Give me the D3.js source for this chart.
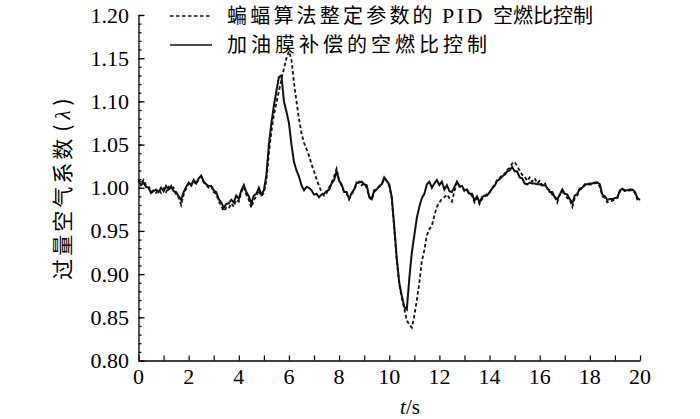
<!DOCTYPE html>
<html><head><meta charset="utf-8">
<script src="https://cdn.jsdelivr.net/npm/d3@7"></script>
<style>html,body{margin:0;padding:0;background:#fff;}svg{display:block;}</style>
</head><body>
<svg id="chart" width="700" height="419"></svg>
<script>
// time samples (s)
const time = [0.0,0.1,0.2,0.3,0.4,0.5,0.6,0.7,0.8,0.9,1.0,1.1,1.2,1.3,1.4,1.5,1.6,1.7,1.8,1.9,2.0,2.1,2.2,2.3,2.4,2.5,2.6,2.7,2.8,2.9,3.0,3.1,3.2,3.3,3.4,3.5,3.6,3.7,3.8,3.9,4.0,4.1,4.2,4.3,4.4,4.5,4.6,4.7,4.8,4.9,5.0,5.1,5.2,5.3,5.4,5.5,5.6,5.7,5.8,5.9,6.0,6.1,6.2,6.3,6.4,6.5,6.6,6.7,6.8,6.9,7.0,7.1,7.2,7.3,7.4,7.5,7.6,7.7,7.8,7.9,8.0,8.1,8.2,8.3,8.4,8.5,8.6,8.7,8.8,8.9,9.0,9.1,9.2,9.3,9.4,9.5,9.6,9.7,9.8,9.9,10.0,10.1,10.2,10.3,10.4,10.5,10.6,10.7,10.8,10.9,11.0,11.1,11.2,11.3,11.4,11.5,11.6,11.7,11.8,11.9,12.0,12.1,12.2,12.3,12.4,12.5,12.6,12.7,12.8,12.9,13.0,13.1,13.2,13.3,13.4,13.5,13.6,13.7,13.8,13.9,14.0,14.1,14.2,14.3,14.4,14.5,14.6,14.7,14.8,14.9,15.0,15.1,15.2,15.3,15.4,15.5,15.6,15.7,15.8,15.9,16.0,16.1,16.2,16.3,16.4,16.5,16.6,16.7,16.8,16.9,17.0,17.1,17.2,17.3,17.4,17.5,17.6,17.7,17.8,17.9,18.0,18.1,18.2,18.3,18.4,18.5,18.6,18.7,18.8,18.9,19.0,19.1,19.2,19.3,19.4,19.5,19.6,19.7,19.8,19.9,20.0];

// 蝙蝠算法整定参数的 PID 空燃比控制 (dashed)
const batPID = [1.010,1.005,1.009,1.003,1.002,0.995,0.997,0.994,0.998,0.994,0.999,0.995,1.001,0.997,1.000,0.992,0.989,0.980,0.992,0.999,1.005,1.002,1.008,1.004,1.010,1.013,1.006,1.003,1.000,1.002,0.995,0.993,0.984,0.979,0.973,0.977,0.976,0.982,0.978,0.986,0.984,0.995,1.001,0.992,0.986,0.977,0.986,0.990,0.997,0.990,0.994,1.008,1.040,1.065,1.085,1.098,1.112,1.125,1.138,1.150,1.158,1.148,1.122,1.100,1.080,1.063,1.052,1.045,1.037,1.027,1.019,1.010,1.002,0.995,0.991,0.994,1.000,1.006,1.013,1.022,1.009,1.002,0.995,0.993,0.987,0.992,0.998,1.004,1.007,1.003,1.005,1.000,0.989,0.986,0.995,0.998,1.001,1.004,1.010,1.008,1.002,0.988,0.953,0.915,0.888,0.872,0.860,0.846,0.842,0.838,0.852,0.870,0.890,0.915,0.928,0.945,0.952,0.956,0.968,0.978,0.983,0.987,0.989,0.992,0.988,0.984,0.996,1.006,1.001,1.001,0.996,0.997,0.992,0.991,0.983,0.988,0.981,0.987,0.989,0.993,0.994,1.000,1.003,1.009,1.011,1.015,1.016,1.021,1.023,1.028,1.030,1.025,1.020,1.015,1.013,1.008,1.012,1.007,1.011,1.005,1.008,1.003,1.006,0.999,0.997,0.992,0.990,0.983,0.992,0.995,0.993,0.988,0.986,0.978,0.988,0.991,0.998,0.999,1.003,1.003,1.004,1.004,1.005,1.006,1.001,0.990,0.988,0.983,0.984,0.985,0.987,0.988,0.996,0.998,0.996,0.996,0.997,0.997,0.994,0.986,0.984];

// 加油膜补偿的空燃比控制 (solid)
const oilFilm = [1.008,1.003,1.006,1.001,1.000,0.994,0.996,0.998,0.995,1.000,0.996,1.002,0.998,1.002,0.996,0.995,0.990,0.986,0.995,1.001,1.006,1.003,1.009,1.005,1.011,1.014,1.007,1.004,1.002,1.002,0.997,0.995,0.987,0.983,0.977,0.981,0.982,0.986,0.983,0.991,0.987,0.997,1.003,0.995,0.990,0.982,0.991,0.993,1.000,0.992,0.997,1.015,1.050,1.075,1.095,1.112,1.128,1.130,1.100,1.088,1.075,1.050,1.030,1.020,1.013,1.003,0.997,1.001,1.000,0.997,0.992,0.993,0.989,0.992,0.993,0.996,0.998,1.005,1.009,1.019,1.008,1.004,0.995,0.995,0.987,0.994,0.998,1.006,1.006,1.007,1.004,1.003,0.990,0.987,0.997,0.998,1.002,1.004,1.012,1.008,1.004,0.989,0.955,0.918,0.890,0.875,0.862,0.859,0.895,0.925,0.945,0.965,0.978,0.988,0.993,1.004,1.007,1.000,1.005,1.009,1.003,1.007,0.998,1.003,0.996,0.995,1.001,1.007,1.002,1.002,0.997,0.998,0.993,0.993,0.985,0.990,0.983,0.989,0.991,0.991,0.995,0.999,1.002,1.008,1.010,1.013,1.015,1.019,1.020,1.024,1.019,1.019,1.012,1.011,1.005,1.004,1.006,1.005,1.005,1.004,1.004,1.003,1.003,1.000,0.995,0.995,0.989,0.987,0.992,0.998,0.993,0.992,0.987,0.982,0.991,0.993,0.999,1.000,1.004,1.004,1.005,1.005,1.006,1.006,1.004,0.992,0.990,0.986,0.987,0.987,0.988,0.989,0.997,0.999,0.997,0.997,0.998,0.998,0.995,0.988,0.986];

const xTicks = [0,2,4,6,8,10,12,14,16,18,20];
const yTicks = [0.80,0.85,0.90,0.95,1.00,1.05,1.10,1.15,1.20];
const legendLabels = ["蝙蝠算法整定参数的", "PID", "空燃比控制", "加油膜补偿的空燃比控制"];
const yLabelCJK = "过量空气系数", yLabelSym = "λ";

const svg = d3.select("#chart");
const L = 138.5, R = 640, T = 15, B = 360.5;
const x = d3.scaleLinear().domain([0,20]).range([L,R]);
const y = d3.scaleLinear().domain([0.80,1.20]).range([B,T]);
const serif = "'Liberation Serif','Times New Roman',serif";
const cjk = "'Noto Sans CJK SC','Noto Sans',sans-serif";

// X axis
const gx = svg.append("g").attr("transform",`translate(0,${B})`);
gx.call(d3.axisBottom(x).tickValues(d3.range(0,21,1)).tickSize(-5).tickSizeOuter(0).tickFormat(""));
gx.selectAll("text").remove();
gx.select(".domain").attr("stroke","#000").attr("stroke-width",1.3);
gx.selectAll(".tick line").attr("stroke","#000").attr("stroke-width",1.2);
svg.append("g").selectAll("text").data(xTicks).join("text")
  .attr("x",d=>x(d)).attr("y",384).attr("text-anchor","middle")
  .attr("font-family",serif).attr("font-size",22).attr("fill","#000").text(d=>d);

// Y axis
const gy = svg.append("g").attr("transform",`translate(${L},0)`);
gy.call(d3.axisLeft(y).tickValues(d3.range(0,41).map(i=>0.80+i*0.01)).tickSize(-3).tickSizeOuter(0).tickFormat(""));
gy.select(".domain").attr("stroke","#000").attr("stroke-width",1.3);
gy.selectAll(".tick line").attr("stroke","#000").attr("stroke-width",1.2);
const gy2 = svg.append("g").attr("transform",`translate(${L},0)`);
gy2.call(d3.axisLeft(y).tickValues(yTicks).tickSize(-6).tickSizeOuter(0).tickFormat(""));
gy2.select(".domain").remove();
gy2.selectAll(".tick line").attr("stroke","#000").attr("stroke-width",1.3);
svg.append("g").selectAll("text").data(yTicks).join("text")
  .attr("x",129).attr("y",d=>y(d)+7.5).attr("text-anchor","end")
  .attr("font-family",serif).attr("font-size",22).attr("fill","#000").text(d=>d.toFixed(2));

// axis titles
svg.append("text").attr("x",410).attr("y",414).attr("text-anchor","middle")
  .attr("font-family",serif).attr("font-size",21).attr("fill","#000")
  .call(t=>{t.append("tspan").attr("font-style","italic").text("t");t.append("tspan").text("/s");});
const yl = svg.append("text").attr("transform","translate(70,189) rotate(-90)").attr("text-anchor","middle")
  .attr("font-size",21).attr("fill","#000");
yl.append("tspan").attr("font-family",cjk).attr("letter-spacing",3).text(yLabelCJK);
yl.append("tspan").attr("font-family",cjk).attr("dx",4).text("(");
yl.append("tspan").attr("font-family",serif).attr("font-style","italic").attr("dx",5).text(yLabelSym);
yl.append("tspan").attr("font-family",cjk).attr("dx",5).text(")");

// lines
const line = d3.line().x((d,i)=>x(time[i])).y(d=>y(d));
svg.append("path").datum(batPID).attr("d",line).attr("fill","none")
  .attr("stroke","#111").attr("stroke-width",1.8).attr("stroke-dasharray","3.5,2.5");
svg.append("path").datum(oilFilm).attr("d",line).attr("fill","none")
  .attr("stroke","#111").attr("stroke-width",2);

// legend
svg.append("line").attr("x1",170).attr("x2",212).attr("y1",16).attr("y2",16)
  .attr("stroke","#111").attr("stroke-width",1.6).attr("stroke-dasharray","3.5,2.5");
svg.append("line").attr("x1",170).attr("x2",212).attr("y1",45).attr("y2",45)
  .attr("stroke","#111").attr("stroke-width",1.6);
const t1 = svg.append("text").attr("y",23).attr("font-size",20).attr("fill","#000");
t1.append("tspan").attr("x",227).attr("font-family",cjk).attr("letter-spacing",3.2).text(legendLabels[0]);
t1.append("tspan").attr("x",442).attr("font-family",serif).attr("font-size",22).attr("letter-spacing",2.5).text(legendLabels[1]);
t1.append("tspan").attr("x",493).attr("font-family",cjk).attr("letter-spacing",0).text(legendLabels[2]);
svg.append("text").attr("x",227).attr("y",52).attr("font-family",cjk).attr("font-size",20)
  .attr("letter-spacing",4).attr("fill","#000").text(legendLabels[3]);
</script>
</body></html>
